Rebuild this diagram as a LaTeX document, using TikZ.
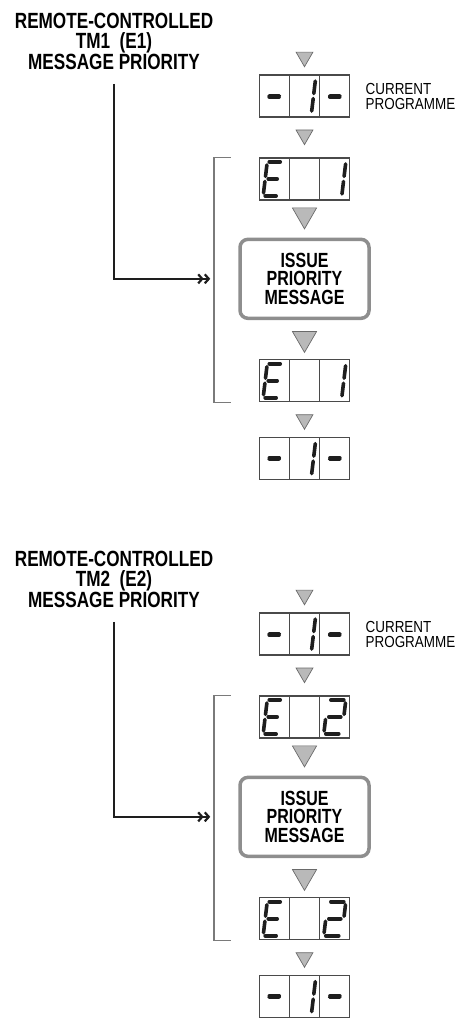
\documentclass[tikz,border=0pt]{standalone}
\usepackage{fontspec}
\setmainfont{Liberation Sans}
\newfontfamily\condfont{Liberation Sans}[FakeStretch=0.78]
\newfontfamily\notefont{Liberation Sans}[FakeStretch=0.84]
\usetikzlibrary{positioning,arrows.meta,shapes.geometric}

\definecolor{ink}{HTML}{1E1E1E}
\definecolor{trifill}{HTML}{B9B9B9}
\definecolor{triline}{HTML}{6A6A6A}
\definecolor{boxline}{HTML}{8E8E8E}
\definecolor{lcdline}{HTML}{4A4A4A}
\definecolor{brackline}{HTML}{7A7A7A}

% seven-segment glyphs, x1/y1/x2/y2 per segment, cell centre at origin
\def\digdash{-5/0.7/5/0.7, -5/-0.7/5/-0.7}
\def\digone{9/15/9/2.5, 9/-2.5/9/-15}
\def\digE{-7/17/4/17, -9/14/-9/2.5, -6/0/3/0, -9/-2.5/-9/-14, -7/-17/4/-17}
\def\digtwo{-6/17/7/17, 9/14/9/2.5, -6/0/6/0, -9/-2.5/-9/-14, -7/-17/6/-17}
\newcommand{\lcdcell}[3]{%
  \begin{scope}[shift={(#1)}, xshift=#2, xslant=0.12]
    \foreach \xa/\ya/\xb/\yb in #3 {\draw[seg] (\xa,\ya) -- (\xb,\yb);}
  \end{scope}}
\newcommand{\lcdshow}[4]{%
  \draw[rule] ([xshift=30.3pt]#1.north west) -- ([xshift=30.3pt]#1.south west);
  \draw[rule] ([xshift=-30.3pt]#1.north east) -- ([xshift=-30.3pt]#1.south east);
  \lcdcell{#1.center}{-30.3}{#2}\lcdcell{#1.center}{0}{#3}\lcdcell{#1.center}{30.3}{#4}}

\begin{document}
\begin{tikzpicture}[x=1pt, y=1pt,
  lcd/.style={draw=lcdline, line width=1.2pt, minimum width=90pt, minimum height=42pt, inner sep=0pt},
  rule/.style={draw=lcdline, line width=1.1pt},
  seg/.style={draw=ink, line width=3.6pt, line cap=round},
  tri/.style={regular polygon, regular polygon sides=3, shape border rotate=180, fill=trifill, draw=triline, line width=0.7pt, inner sep=0pt, minimum size=19.5pt},
  bigtri/.style={tri, minimum size=28pt},
  issue/.style={draw=boxline, line width=3.5pt, rounded corners=8pt, minimum width=129pt, minimum height=79pt, align=center, font=\condfont\bfseries\fontsize{20.5}{18.5}\selectfont},
  heading/.style={align=center, font=\condfont\bfseries\fontsize{22}{20.5}\selectfont},
  note/.style={align=left, font=\notefont\fontsize{16}{15}\selectfont},
  feed/.style={draw=ink, line width=1.7pt, -{Straight Barb[length=4pt,width=9pt,line width=2.2pt] Straight Barb[length=4pt,width=9pt,line width=2.2pt]}},
  bracket/.style={draw=brackline, line width=1.3pt},
]
\useasboundingbox (0,0) rectangle (472,-1024);
\foreach \k/\dy/\num in {1/0/one, 2/-538/two}{
  \expandafter\let\expandafter\codedig\csname dig\num\endcsname
  \node[heading] (title\k) at (114,{-41+\dy}) {REMOTE-CONTROLLED\\TM\k~~(E\k)\\MESSAGE PRIORITY};
  \node[tri] (cue\k) at (304.5,{-57+\dy}) {};
  \node[lcd, below=7pt of cue\k] (cur\k) {};
  \node[note, right=12pt of cur\k] (prog\k) {CURRENT\\PROGRAMME};
  \node[tri, below=12pt of cur\k] (step\k) {};
  \node[lcd, below=12pt of step\k] (code\k) {};
  \node[bigtri, below=7pt of code\k] (push\k) {};
  \node[issue, below=8pt of push\k] (issue\k) {ISSUE\\PRIORITY\\MESSAGE};
  \node[bigtri, below=11pt of issue\k] (pull\k) {};
  \node[lcd, below=6pt of pull\k] (codeb\k) {};
  \node[tri, below=12pt of codeb\k] (fin\k) {};
  \node[lcd, below=7pt of fin\k] (back\k) {};

  \lcdshow{cur\k}{\digdash}{\digone}{\digdash}
  \lcdshow{code\k}{\digE}{{}}{\codedig}
  \lcdshow{codeb\k}{\digE}{{}}{\codedig}
  \lcdshow{back\k}{\digdash}{\digone}{\digdash}

  \draw[bracket] ([xshift=-28pt]code\k.north west) -| ([xshift=-45pt]codeb\k.south west) -- ([xshift=-28pt]codeb\k.south west);
  \draw[feed] ([yshift=-11pt]title\k.south) |- ([xshift=-28pt]issue\k.west);
}
\end{tikzpicture}
\end{document}
